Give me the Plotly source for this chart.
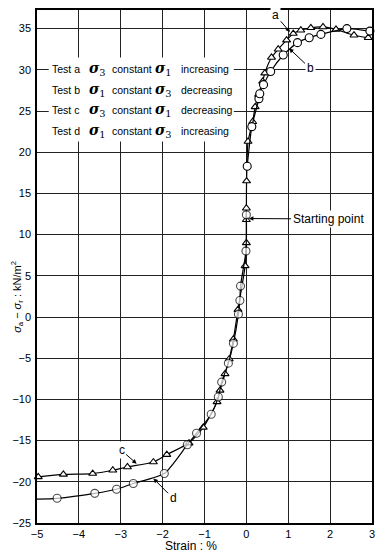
import plotly.graph_objects as go

# ---- data ----
a_x = [0.0, 0.005, 0.04, 0.15, 0.21, 0.29, 0.39, 0.44, 0.60, 0.76, 0.96, 1.12, 1.30, 1.54, 1.83, 2.14, 2.57, 2.91]
a_y = [11.8, 16.5, 21.3, 23.7, 25.5, 27.0, 28.6, 29.6, 31.5, 32.5, 33.6, 34.4, 34.8, 35.1, 35.2, 34.9, 34.2, 33.9]

b_x = [0.02, 0.13, 0.30, 0.32, 0.41, 0.58, 0.88, 1.22, 1.50, 1.78, 2.40, 2.95]
b_y = [18.3, 23.1, 26.5, 27.1, 28.2, 29.8, 31.8, 33.3, 33.9, 34.3, 35.0, 34.7]

c_x = [0.0, 0.0, -0.03, -0.20, -0.31, -0.41, -0.51, -0.63, -0.70, -1.03, -1.37, -1.90, -2.22, -2.84, -3.19, -3.67, -4.37, -4.97]
c_y = [13.2, 9.0, 6.2, 0.9, -2.7, -5.1, -6.9, -8.9, -10.3, -13.4, -15.3, -16.7, -17.6, -18.2, -18.6, -19.0, -19.1, -19.4]

d_x = [0.0, -0.01, -0.14, -0.155, -0.19, -0.31, -0.43, -0.59, -0.67, -0.84, -1.19, -1.41, -1.96, -2.70, -3.10, -3.62, -4.52, -5.0]
d_y = [12.4, 8.0, 3.75, 2.0, 0.35, -3.2, -5.6, -7.9, -9.7, -11.8, -14.1, -15.5, -19.0, -20.2, -20.9, -21.4, -22.0, -22.1]

x_ticks = [-5, -4, -3, -2, -1, 0, 1, 2, 3]
y_ticks = [-25, -20, -15, -10, -5, 0, 5, 10, 15, 20, 25, 30, 35]

legend_rows = [
    ("Test a", "3", "constant", "1", "increasing"),
    ("Test b", "1", "constant", "3", "decreasing"),
    ("Test c", "3", "constant", "1", "decreasing"),
    ("Test d", "1", "constant", "3", "increasing"),
]
legend_y = [30.1, 27.6, 25.1, 22.6]

FONT = "Liberation Sans"
SIG = "DejaVu Serif"
fig = go.Figure()


def add_series(xs, ys, symbol, size, sizes=None):
    fig.add_trace(go.Scatter(
        x=xs, y=ys, mode="lines+markers",
        line=dict(color="black", width=1.2, shape="spline", smoothing=0.6),
        marker=dict(symbol=symbol, size=sizes if sizes else size, color="white",
                    line=dict(color="black", width=1.1)),
        showlegend=False, cliponaxis=False,
    ))


add_series(a_x, a_y, "triangle-up", 7)
add_series(b_x, b_y, "circle", 8)
add_series(c_x, c_y, "triangle-up", 7)
add_series(d_x, d_y, "circle", 8, sizes=[8] * (len(d_x) - 1) + [0])

# white block behind the legend text
fig.add_shape(type="rect", x0=-4.72, x1=-0.30, y0=21.3, y1=31.5,
              fillcolor="white", line=dict(width=0), layer="between")

col_x = [-4.70, -3.80, -3.25, -2.22, -1.62]
for row, yy in zip(legend_rows, legend_y):
    texts = [row[0], "<b><i>σ</i></b><sub>" + row[1] + "</sub>", row[2],
             "<b><i>σ</i></b><sub>" + row[3] + "</sub>", row[4]]
    for t, xx in zip(texts, col_x):
        if "σ" in t:
            f = dict(family=SIG, size=14, color="black")
        else:
            f = dict(family=FONT, size=10.5, color="black")
        fig.add_annotation(x=xx, y=yy, text=t, showarrow=False, xanchor="left",
                           yanchor="middle", font=f)

# labels with arrows
def label(text, tx, ty, px, py):
    fig.add_annotation(x=px, y=py, ax=tx, ay=ty, axref="x", ayref="y", text=text,
                       showarrow=True, arrowhead=2, arrowsize=0.9, arrowwidth=1,
                       arrowcolor="black", bgcolor="white",
                       font=dict(family=FONT, size=12, color="black"))

label("a", 0.70, 36.6, 1.04, 34.6)
label("b", 1.52, 30.2, 1.02, 32.6)
label("c", -2.98, -16.2, -2.62, -17.8)
label("d", -1.75, -22.0, -2.22, -19.6)
label("Starting point", 1.95, 11.9, 0.06, 11.95)

fig.add_annotation(x=-0.058, y=0.44, xref="paper", yref="paper", textangle=-90,
                   xanchor="center", yanchor="middle",
                   text="<i>σ</i><sub>a</sub> − <i>σ</i><sub>r</sub> : kN/m<sup>2</sup>",
                   showarrow=False, font=dict(family=FONT, size=11, color="black"))
fig.add_annotation(x=0.46, y=-0.028, xref="paper", yref="paper", yanchor="top",
                   text="Strain : %", showarrow=False,
                   font=dict(family=FONT, size=12, color="black"))

axis_common = dict(showline=True, linecolor="black", linewidth=1.5, mirror=True,
                   showgrid=True, gridcolor="#222", gridwidth=1, zeroline=False,
                   ticks="", tickfont=dict(family=FONT, size=11, color="black"))
fig.update_xaxes(range=[-5, 3], tickvals=x_ticks, ticklabelstandoff=0,
                 ticktext=[str(v).replace("-", "−") for v in x_ticks], **axis_common)
fig.update_yaxes(range=[-25, 37.26], tickvals=y_ticks, ticklabelstandoff=2,
                 ticktext=[str(v).replace("-", "−") for v in y_ticks], **axis_common)

# the page body adds an 8px offset; size the figure so the plot lands where the reference has it
fig.update_layout(width=377, height=548, margin=dict(l=29, r=13, t=0, b=33),
                  plot_bgcolor="white", paper_bgcolor="white")

fig.write_html("out.html")
